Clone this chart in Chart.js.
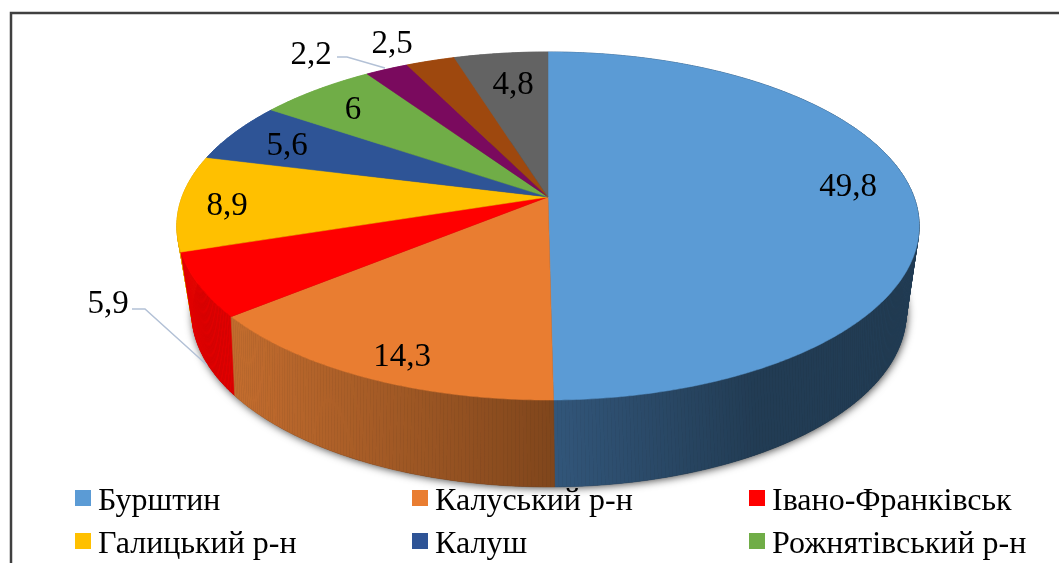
<!DOCTYPE html>
<html><head><meta charset="utf-8">
<style>html,body{margin:0;padding:0;background:#fff;overflow:hidden}canvas{display:block}</style>
<script src="https://cdn.jsdelivr.net/npm/chart.js@4"></script></head>
<body><canvas id="c" width="1059" height="563"></canvas>
<script>
const categories=["Бурштин","Калуський р-н","Івано-Франківськ","Галицький р-н","Калуш","Рожнятівський р-н","","",""];
const shares=[49.8,14.3,5.9,8.9,5.6,6,2.2,2.5,4.8];
const valueLabels=["49,8","14,3","5,9","8,9","5,6","6","2,2","2,5","4,8"];
const colors=["#5b9bd5","#e97d31","#ff0000","#ffc000","#2e5496","#70ad47","#7a0a5e","#9e480e","#636363"];

const TOP={cx:548,cy:197,d:366,a:169.2,c:1/6};
const BOT={cx:549,cy:274,d:348,a:165,c:0.225};
const labelAt=[[848,187],[402,357],[108,304],[227,206],[287,146],[353,110],[311,55],[392,44],[513,85]];
const leaders=[[[132,309],[145,309],[207,365]],[[337,57],[347,57],[385,68]]];
const legendCols=[75,412,749],legendRows=[490,533];
const FONT='"Liberation Serif","Times New Roman",serif';

function proj(P,ang){ // ang is the library's arc angle (0 = 3 o'clock, clockwise)
  const u=Math.cos(ang),v=Math.sin(ang),w=1-P.c*v;
  return [P.cx+P.d*u/w,P.cy+P.a*v/w];
}
function mix(a,b,t){return `rgb(${a.map((x,i)=>Math.round(x+(b[i]-x)*t)).join(",")})`;}
function sideColor(i,t,x){
  if(i===0){const k=Math.min(1,(x-553)/200);return mix([50,86,122],[34,60,84],k);}
  if(i===1){const k=Math.max(0,Math.min(1,(x-238)/315));return mix([194,108,46],[128,70,28],k);}
  if(i===2)return "#e00000";
  if(i===3)return "#e0a800";
  return colors[i];
}
const pie3d={id:'pie3d',
  beforeDatasetDraw(chart,args){
    const ctx=chart.ctx,arcs=chart.getDatasetMeta(0).data;
    ctx.save();
    ctx.strokeStyle="#404040";ctx.lineWidth=2.5;
    ctx.beginPath();ctx.moveTo(11,570);ctx.lineTo(11,13);ctx.lineTo(1059,13);ctx.stroke();
    ctx.save();
    ctx.shadowColor="rgba(0,0,0,0.75)";ctx.shadowBlur=9;ctx.shadowOffsetX=1;ctx.shadowOffsetY=1;
    ctx.fillStyle="#222";ctx.beginPath();
    for(let k=0;k<=360;k++){const p=proj(BOT,k*Math.PI/180);k?ctx.lineTo(p[0],p[1]):ctx.moveTo(p[0],p[1]);}
    ctx.closePath();ctx.fill();ctx.restore();
    const strips=[];
    arcs.forEach((el,i)=>{
      const n=Math.max(2,Math.ceil((el.endAngle-el.startAngle)/(0.5*Math.PI/180)));
      for(let k=0;k<n;k++){
        const a0=el.startAngle+(el.endAngle-el.startAngle)*k/n,a1=el.startAngle+(el.endAngle-el.startAngle)*(k+1)/n;
        strips.push({i,a0,a1,t:k/n,s:Math.sin((a0+a1)/2)});
      }
    });
    strips.sort((p,q)=>p.s-q.s);
    strips.forEach(s=>{
      const A=proj(TOP,s.a0),B=proj(TOP,s.a1),C=proj(BOT,s.a1),D=proj(BOT,s.a0);
      const col=sideColor(s.i,s.t,(A[0]+B[0])/2);
      ctx.fillStyle=col;ctx.strokeStyle=col;ctx.lineWidth=0.6;
      ctx.beginPath();ctx.moveTo(A[0],A[1]);ctx.lineTo(B[0],B[1]);ctx.lineTo(C[0],C[1]);ctx.lineTo(D[0],D[1]);ctx.closePath();
      ctx.fill();ctx.stroke();
    });
    arcs.forEach((el,i)=>{
      ctx.fillStyle=colors[i];ctx.strokeStyle=colors[i];ctx.lineWidth=0.5;
      ctx.beginPath();ctx.moveTo(TOP.cx,TOP.cy);
      const n=Math.max(2,Math.ceil((el.endAngle-el.startAngle)/(0.5*Math.PI/180)));
      for(let k=0;k<=n;k++){const p=proj(TOP,el.startAngle+(el.endAngle-el.startAngle)*k/n);ctx.lineTo(p[0],p[1]);}
      ctx.closePath();ctx.fill();ctx.stroke();
    });
    ctx.strokeStyle="#b3c1d6";ctx.lineWidth=1.5;
    leaders.forEach(l=>{ctx.beginPath();l.forEach((p,k)=>k?ctx.lineTo(p[0],p[1]):ctx.moveTo(p[0],p[1]));ctx.stroke();});
    ctx.fillStyle="#000";ctx.font='33px '+FONT;ctx.textAlign="center";ctx.textBaseline="middle";
    valueLabels.forEach((t,i)=>ctx.fillText(t,labelAt[i][0],labelAt[i][1]));
    ctx.textAlign="left";ctx.textBaseline="alphabetic";ctx.font='32px '+FONT;
    categories.forEach((t,i)=>{
      if(!t)return;
      const x=legendCols[i%3],y=legendRows[Math.floor(i/3)];
      ctx.fillStyle=colors[i];ctx.fillRect(x,y,16,16);
      ctx.fillStyle="#000";ctx.fillText(t,x+23,y+20);
    });
    ctx.restore();
    return false;
  }
};
new Chart(document.getElementById('c'),{
  type:'pie',
  data:{labels:categories,datasets:[{data:shares,backgroundColor:colors,borderWidth:0}]},
  options:{responsive:false,animation:false,rotation:0,events:[],
    plugins:{legend:{display:false},tooltip:{enabled:false},title:{display:false}}},
  plugins:[pie3d]
});
</script></body></html>
